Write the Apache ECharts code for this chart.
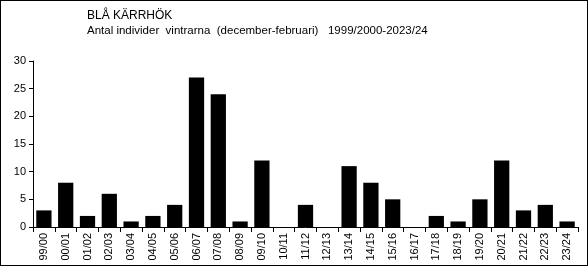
<!DOCTYPE html>
<html><head><meta charset="utf-8">
<script src="https://cdn.jsdelivr.net/npm/echarts@6/dist/echarts.min.js"></script>
<style>html,body{margin:0;padding:0;background:#fff}#c{width:588px;height:266px;box-sizing:border-box;border:1px solid #000}</style>
</head><body><div id="c"></div>
<script>
const categories = ['99/00','00/01','01/02','02/03','03/04','04/05','05/06','06/07','07/08','08/09','09/10','10/11','11/12','12/13','13/14','14/15','15/16','16/17','17/18','18/19','19/20','20/21','21/22','22/23','23/24'];
const values = [3,8,2,6,1,2,4,27,24,1,12,0,4,0,11,8,5,0,2,1,5,12,3,4,1];
const titleLine1 = 'BLÅ KÄRRHÖK';
const titleLine2 = 'Antal individer  vintrarna  (december-februari)   1999/2000-2023/24';
const chart = echarts.init(document.getElementById('c'), null, {renderer:'canvas'});
const font = 'Liberation Sans, Arial, sans-serif';
chart.setOption({
  animation:false,
  title:{left:86, top:9, padding:0, text:titleLine1, subtext:titleLine2, itemGap:3,
    textStyle:{fontFamily:font, fontSize:12, fontWeight:'normal', color:'#000'},
    subtextStyle:{fontFamily:font, fontSize:11.5, color:'#000'}},
  grid:{left:32, right:9, top:60, bottom:38},
  xAxis:{type:'category', data:categories,
    axisLine:{lineStyle:{color:'#000'}},
    axisTick:{show:true, alignWithLabel:false, length:5, lineStyle:{color:'#000'}},
    axisLabel:{rotate:90, interval:0, fontFamily:font, fontSize:11, color:'#000', margin:6}},
  yAxis:{type:'value', min:0, max:30, interval:5,
    axisLine:{show:true, lineStyle:{color:'#000'}},
    axisTick:{show:true, length:4, lineStyle:{color:'#000'}},
    splitLine:{show:false},
    axisLabel:{fontFamily:font, fontSize:11, color:'#000', margin:7}},
  series:[{type:'bar', data:values, barCategoryGap:'30%', itemStyle:{color:'#000'}}]
});
</script></body></html>
